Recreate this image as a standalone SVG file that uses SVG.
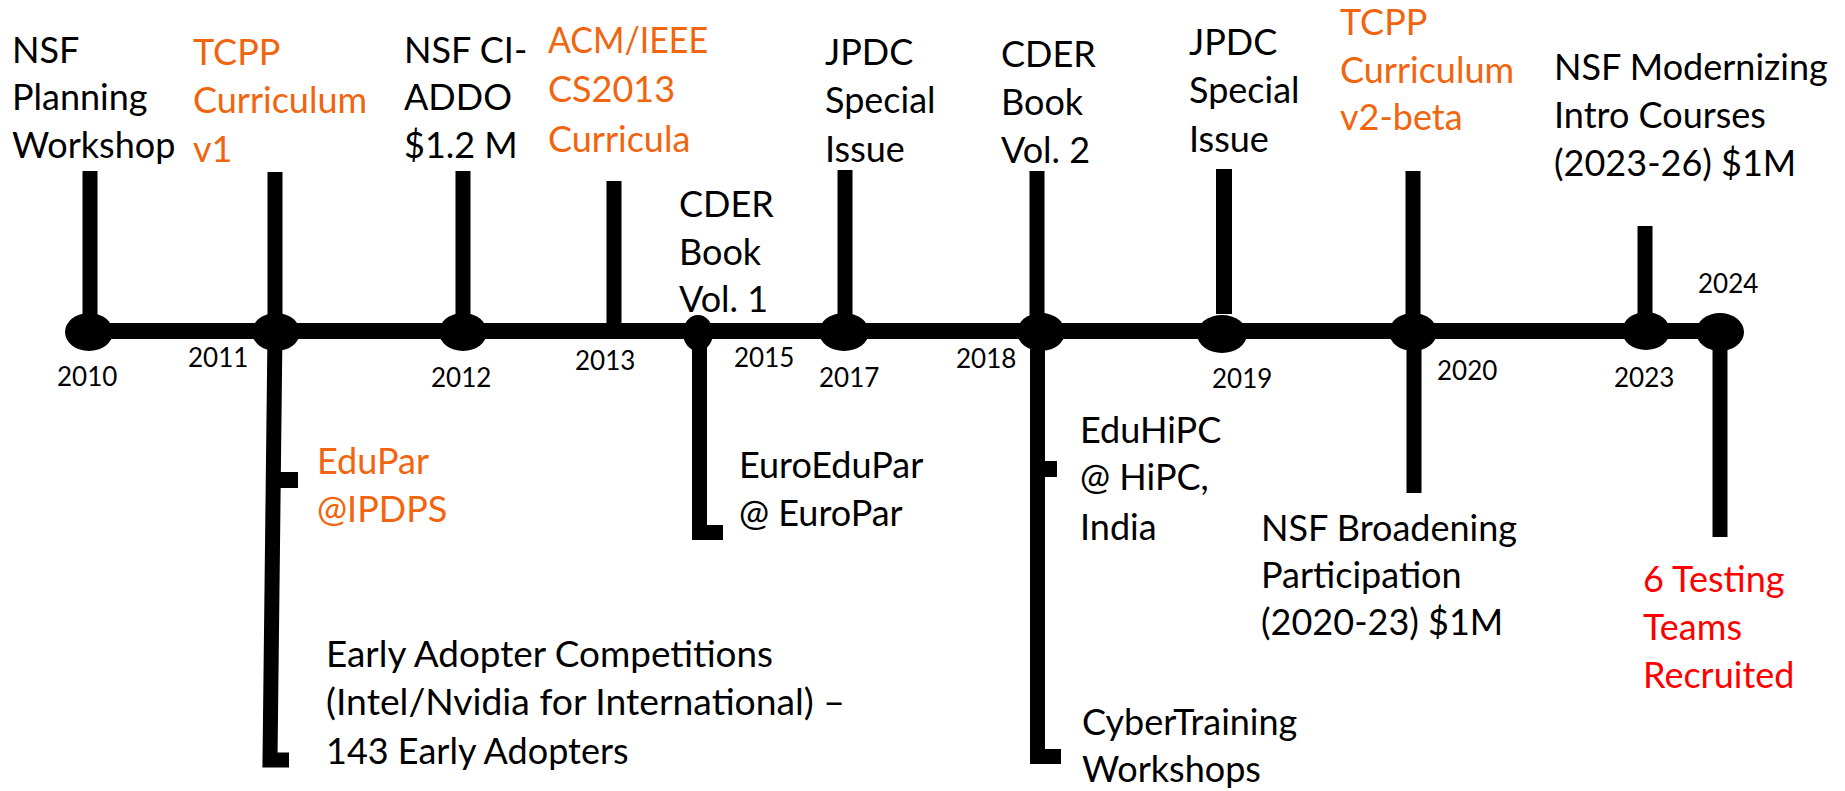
<svg xmlns="http://www.w3.org/2000/svg" width="1845" height="791" viewBox="0 0 1845 791">
<style>
text{font-family:Lato,"Open Sans","Liberation Sans",sans-serif;font-size:36px;fill:#000}
.yr{font-size:26px}
.or{fill:#F0650E}
.rd{fill:#FF0000}
.ln{stroke:#000;stroke-width:15;fill:none;stroke-linecap:butt;stroke-linejoin:miter}
.dot{fill:#000}
</style>
<rect width="1845" height="791" fill="#fff"/>
<g id="connectors">
<line class="ln" x1="89" y1="331" x2="1720" y2="331" style="stroke-width:16"/>
<line class="ln" x1="90" y1="171" x2="90" y2="331"/>
<line class="ln" x1="275" y1="172" x2="275" y2="331"/>
<polyline class="ln" points="275,331 270,760 289,760"/>
<rect x="280" y="472" width="18" height="16" class="dot"/>
<line class="ln" x1="463" y1="171" x2="463" y2="331"/>
<line class="ln" x1="614" y1="181" x2="614" y2="331"/>
<polyline class="ln" points="699.5,331 699.5,532.5 723,532.5"/>
<line class="ln" x1="845" y1="170" x2="845" y2="331"/>
<line class="ln" x1="1037" y1="171" x2="1037" y2="331"/>
<polyline class="ln" points="1037.5,331 1037.5,756.5 1061,756.5"/>
<rect x="1044" y="461" width="13" height="16" class="dot"/>
<line class="ln" x1="1224" y1="169" x2="1224" y2="314" style="stroke-width:16"/>
<line class="ln" x1="1413" y1="171" x2="1413" y2="331"/>
<line class="ln" x1="1414" y1="331" x2="1414" y2="493"/>
<line class="ln" x1="1645" y1="226" x2="1645" y2="331"/>
<line class="ln" x1="1720" y1="331" x2="1720" y2="537"/>
</g>
<g id="n2010">
<ellipse class="dot" cx="89" cy="332" rx="24" ry="19"/>
<text class="yr" x="57" y="386">2010</text>
<text x="12" y="63">NSF</text>
<text x="12" y="110">Planning</text>
<text x="12" y="158">Workshop</text>
</g>
<g id="n2011">
<ellipse class="dot" cx="276" cy="332" rx="24" ry="19"/>
<text class="yr" x="188" y="367">2011</text>
<text class="or" x="193" y="65">TCPP</text>
<text class="or" x="193" y="113">Curriculum</text>
<text class="or" x="193" y="162">v1</text>
</g>
<g id="edupar">
<text class="or" x="317" y="474">EduPar</text>
<text class="or" x="317" y="522">@IPDPS</text>
</g>
<g id="early-adopters">
<text x="326" y="667" textLength="447" lengthAdjust="spacingAndGlyphs">Early Adopter Competitions</text>
<text x="326" y="715" textLength="519" lengthAdjust="spacingAndGlyphs">(Intel/Nvidia for International) –</text>
<text x="326" y="764">143 Early Adopters</text>
</g>
<g id="n2012">
<ellipse class="dot" cx="463" cy="332" rx="24" ry="19"/>
<text class="yr" x="431" y="387">2012</text>
<text x="404" y="63">NSF CI-</text>
<text x="404" y="110">ADDO</text>
<text x="404" y="158">$1.2 M</text>
</g>
<g id="n2013">
<text class="yr" x="575" y="370">2013</text>
<text class="or" x="548" y="53" textLength="160" lengthAdjust="spacingAndGlyphs">ACM/IEEE</text>
<text class="or" x="548" y="102">CS2013</text>
<text class="or" x="548" y="152">Curricula</text>
</g>
<g id="n2015">
<ellipse class="dot" cx="698" cy="333" rx="15" ry="18"/>
<text class="yr" x="734" y="367">2015</text>
<text x="679" y="217">CDER</text>
<text x="679" y="265">Book</text>
<text x="679" y="312">Vol. 1</text>
</g>
<g id="euroedupar">
<text x="739" y="478">EuroEduPar</text>
<text x="739" y="526">@ EuroPar</text>
</g>
<g id="n2017">
<ellipse class="dot" cx="844" cy="332" rx="25" ry="19"/>
<text class="yr" x="819" y="387">2017</text>
<text x="825" y="65">JPDC</text>
<text x="825" y="113">Special</text>
<text x="825" y="162">Issue</text>
</g>
<g id="n2018">
<ellipse class="dot" cx="1041" cy="332" rx="24" ry="19"/>
<text class="yr" x="956" y="368">2018</text>
<text x="1001" y="67">CDER</text>
<text x="1001" y="115">Book</text>
<text x="1001" y="163">Vol. 2</text>
</g>
<g id="eduhipc">
<text x="1080" y="443">EduHiPC</text>
<text x="1080" y="490">@ HiPC,</text>
<text x="1080" y="540">India</text>
</g>
<g id="cybertraining">
<text x="1082" y="735">CyberTraining</text>
<text x="1082" y="782">Workshops</text>
</g>
<g id="n2019">
<ellipse class="dot" cx="1222" cy="334" rx="25" ry="19"/>
<text class="yr" x="1212" y="388">2019</text>
<text x="1189" y="55">JPDC</text>
<text x="1189" y="103">Special</text>
<text x="1189" y="152">Issue</text>
</g>
<g id="n2020">
<ellipse class="dot" cx="1413" cy="332" rx="24" ry="19"/>
<text class="yr" x="1437" y="380">2020</text>
<text class="or" x="1340" y="35">TCPP</text>
<text class="or" x="1340" y="83">Curriculum</text>
<text class="or" x="1340" y="130">v2-beta</text>
</g>
<g id="broadening">
<text x="1261" y="541">NSF Broadening</text>
<text x="1261" y="588">Participation</text>
<text x="1261" y="635">(2020-23) $1M</text>
</g>
<g id="n2023">
<ellipse class="dot" cx="1646" cy="331" rx="24" ry="19"/>
<text class="yr" x="1614" y="387">2023</text>
<text x="1554" y="80">NSF Modernizing</text>
<text x="1554" y="128">Intro Courses</text>
<text x="1554" y="176">(2023-26) $1M</text>
</g>
<g id="n2024">
<ellipse class="dot" cx="1720" cy="332" rx="24" ry="19"/>
<text class="yr" x="1698" y="293">2024</text>
<text class="rd" x="1643" y="592">6 Testing</text>
<text class="rd" x="1643" y="640">Teams</text>
<text class="rd" x="1643" y="688">Recruited</text>
</g>
</svg>
